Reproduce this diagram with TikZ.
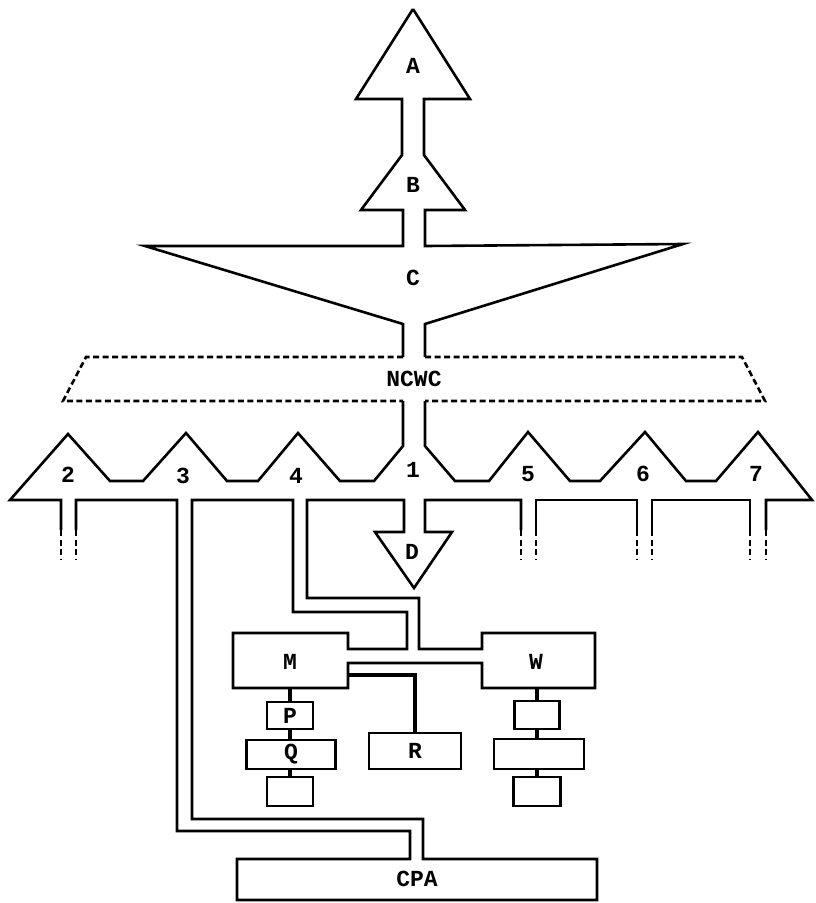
\documentclass[tikz,border=0pt]{standalone}
\usepackage{fontspec}
\setmainfont{Liberation Mono}
\begin{document}
\begin{tikzpicture}[x=1pt,y=-1pt,
  ln/.style={line width=2.6pt, line join=miter, line cap=butt},
  dsh/.style={line width=2.6pt, dash pattern=on 6pt off 3.5pt},
  lbl/.style={font=\bfseries\fontsize{23}{23}\selectfont, inner sep=0pt},
  box/.style={draw, line width=2.6pt, inner sep=0pt, font=\bfseries\fontsize{23}{23}\selectfont},
  wire/.style={line width=3.4pt}]
\useasboundingbox (0,0) rectangle (816,903);
% --- A, B, C and the stem down to NCWC ---
\draw[ln] (413,9) -- (356,99) -- (402,99) -- (402,155) -- (361,210) -- (403,210)
   -- (403,246) -- (145,246) -- (403,324) -- (403,357);
\draw[ln] (413,9) -- (470,99) -- (424,99) -- (424,155) -- (465,210) -- (425,210)
   -- (425,246) -- (683,244) -- (425,324) -- (425,357);
% --- NCWC (dashed) ---
\draw[dsh] (403,357) -- (86,357) -- (63,401) -- (403,401);
\draw[dsh] (425,357) -- (742,357) -- (765,401) -- (425,401);
% --- band of triangles 2..7 ---
\draw[ln] (403,401) -- (403,446) -- (374,481) -- (340,481) -- (298,433) -- (258,481)
   -- (227,481) -- (186,433) -- (143,481) -- (110,481) -- (68,434) -- (10,500)
   -- (61,500) -- (61,530);
\draw[ln] (425,401) -- (425,446) -- (455,481) -- (489,481) -- (528,432) -- (570,481)
   -- (600,481) -- (645,432) -- (686,481) -- (716,481) -- (758,432) -- (812,500)
   -- (766,500) -- (766,530);
% --- channels below the band: 3 to CPA, 4 to M and W, 1 to D ---
\draw[ln] (76,530) -- (76,500) -- (177,500) -- (177,831) -- (410,831) -- (410,859)
   -- (237,859) -- (237,900) -- (597,900) -- (597,859) -- (423,859) -- (423,819)
   -- (192,819) -- (192,500) -- (293,500) -- (293,612) -- (407,612) -- (407,649)
   -- (348,649) -- (348,633) -- (233,633) -- (233,688) -- (348,688) -- (348,663)
   -- (482,663) -- (482,688) -- (595,688) -- (595,633) -- (482,633) -- (482,649)
   -- (419,649) -- (419,598) -- (307,598) -- (307,500) -- (404,500) -- (404,532)
   -- (375,532) -- (414,588) -- (452,532) -- (425,532) -- (425,500) -- (521,500)
   -- (521,530);
\draw[ln] (536,530) -- (536,500) -- (637,500) -- (637,530);
\draw[ln] (652,530) -- (652,500) -- (750,500) -- (750,530);
% dashed stub ends
\foreach \sx in {61,76,521,536,637,652,750,766}
  \draw[dsh] (\sx,530) -- (\sx,560);
% --- labels ---
\node[lbl] (lA) at (413,66) {A};
\node[lbl] (lB) at (413,185) {B};
\node[lbl] (lC) at (413,278) {C};
\node[lbl] (lN) at (414,379) {NCWC};
\node[lbl] (l2) at (68,475) {2};
\node[lbl] (l3) at (183,476) {3};
\node[lbl] (l4) at (296,476) {4};
\node[lbl] (l1) at (413,470) {1};
\node[lbl] (l5) at (528,474) {5};
\node[lbl] (l6) at (643,474) {6};
\node[lbl] (l7) at (756,474) {7};
\node[lbl] (lD) at (412,552) {D};
\node[lbl] (lM) at (290,662) {M};
\node[lbl] (lW) at (536,662) {W};
\node[lbl] (lCPA) at (417,879) {CPA};
\coordinate (Mb) at (290,688);
\coordinate (Wb) at (537,688);
\coordinate (Mr) at (348,675);
% --- boxes under M ---
\node[box, minimum width=46pt, minimum height=27pt] (P) at (290,715.5) {P};
\node[box, minimum width=89pt, minimum height=29pt] (Q) at (291,754.5) {Q};
\node[box, minimum width=46pt, minimum height=29pt] (Qs) at (290,791.5) {};
\node[box, minimum width=92pt, minimum height=36pt] (R) at (415,751) {R};
% --- boxes under W ---
\node[box, minimum width=45pt, minimum height=28pt] (W1) at (537,715) {};
\node[box, minimum width=90pt, minimum height=30pt] (W2) at (539,754) {};
\node[box, minimum width=47pt, minimum height=29pt] (W3) at (537,791.5) {};
% --- connectors ---
\draw[wire] (Mb) -- (Mb |- P.north);
\draw[wire] (P.south) -- (P.south |- Q.north);
\draw[wire] (Qs.north) -- (Qs.north |- Q.south);
\draw[wire] (Mr) -| (R.north);
\draw[wire] (Wb) -- (Wb |- W1.north);
\draw[wire] (W1.south) -- (W1.south |- W2.north);
\draw[wire] (W3.north) -- (W3.north |- W2.south);
\end{tikzpicture}
\end{document}
